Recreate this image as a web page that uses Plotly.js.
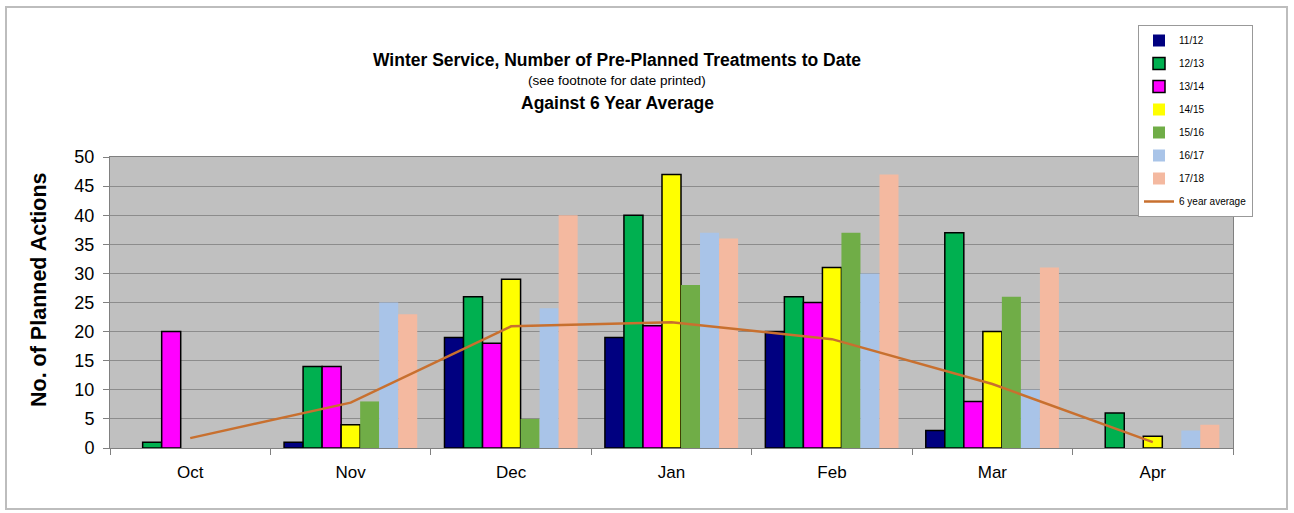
<!DOCTYPE html>
<html>
<head>
<meta charset="utf-8">
<script src="https://cdn.plot.ly/plotly-3.0.1.min.js"></script>
<style>
html,body{margin:0;padding:0;background:#fff;}
#chart{width:1294px;height:513px;}
</style>
</head>
<body>
<div id="chart"></div>
<script>
const months = ["Oct","Nov","Dec","Jan","Feb","Mar","Apr"];
const s1112 = [0, 1, 19, 19, 20, 3, 0];
const s1213 = [1, 14, 26, 40, 26, 37, 6];
const s1314 = [20, 14, 18, 21, 25, 8, 0];
const s1415 = [0, 4, 29, 47, 31, 20, 2];
const s1516 = [0, 8, 5, 28, 37, 26, 0];
const s1617 = [0, 25, 24, 37, 30, 10, 3];
const s1718 = [0, 23, 40, 36, 47, 31, 4];
const avg6 = [1.7, 7.8, 20.9, 21.6, 18.7, 11.0, 1.0];
const seriesNames = ["11/12","12/13","13/14","14/15","15/16","16/17","17/18"];
const yTicks = [0,5,10,15,20,25,30,35,40,45,50];
const titleLines = ["Winter Service, Number of Pre-Planned Treatments to Date","(see footnote for date printed)","Against 6 Year Average"];
const yTitle = "No. of Planned Actions";

const FONT = "Liberation Sans, Arial, sans-serif";
const colors = ["#000080","#00B050","#FF00FF","#FFFF00","#70AD47","#A9C4E8","#F4B9A0"];
const outlined = [true,true,true,true,false,false,false];
const allSeries = [s1112,s1213,s1314,s1415,s1516,s1617,s1718];

const traces = allSeries.map((vals,i)=>({
  type:"bar",
  name: seriesNames[i],
  x: months,
  y: vals,
  legendgroup: "g"+i,
  marker:{color:colors[i], line:{color:"#000", width: vals.map(v => (outlined[i] && v>0) ? 1.5 : 0)}}
}));
traces.push({
  type:"scatter",
  mode:"lines",
  name:"6 year average",
  x: months,
  y: avg6,
  legendgroup:"g7",
  line:{color:"#C8702F", width:2.5}
});

const L=110, R=61, T=157, B=65;
const W=1294, H=513;
const pw=W-L-R, ph=H-T-B;
const px = v => (v-L)/pw;
const py = v => (H-B-v)/ph;

const layout = {
  width:W, height:H,
  margin:{l:L, r:R, t:T, b:B, pad:0},
  paper_bgcolor:"#ffffff",
  plot_bgcolor:"#C0C0C0",
  barmode:"group",
  bargap:0.17,
  bargroupgap:0,
  font:{family:FONT, color:"#000"},
  annotations:[
    {text:"<b>"+titleLines[0]+"</b>", xref:"paper", yref:"paper", x:px(617), y:py(60), xanchor:"center", yanchor:"middle", showarrow:false, font:{size:17.5, family:FONT}},
    {text:titleLines[1], xref:"paper", yref:"paper", x:px(617), y:py(80), xanchor:"center", yanchor:"middle", showarrow:false, font:{size:13.5, family:FONT}},
    {text:"<b>"+titleLines[2]+"</b>", xref:"paper", yref:"paper", x:px(617), y:py(103), xanchor:"center", yanchor:"middle", showarrow:false, font:{size:17.5, family:FONT}},
    {text:"<b>"+yTitle+"</b>", xref:"paper", yref:"paper", x:px(39), y:py(290), xanchor:"center", yanchor:"middle", textangle:-90, showarrow:false, font:{size:21.5, family:FONT}}
  ],
  xaxis:{
    type:"category",
    tickfont:{size:17, family:FONT},
    ticks:"outside", tickson:"boundaries", ticklen:6, tickcolor:"#808080",
    ticklabelstandoff:9,
    showline:true, linecolor:"#808080", linewidth:1, mirror:true,
    showgrid:false, fixedrange:true
  },
  yaxis:{
    range:[0,50],
    tickvals:yTicks,
    tickfont:{size:18, family:FONT},
    ticks:"outside", ticklen:6, tickcolor:"#808080",
    ticklabelstandoff:5,
    showline:true, linecolor:"#808080", linewidth:1, mirror:true,
    gridcolor:"#8C8C8C", gridwidth:1,
    zeroline:false,
    fixedrange:true
  },
  legend:{
    x:px(1138), y:py(25), xanchor:"left", yanchor:"top",
    bgcolor:"#ffffff", bordercolor:"#999999", borderwidth:1,
    font:{size:10, family:FONT},
    tracegroupgap:4,
    itemwidth:30
  },
  shapes:[{
    type:"rect", xref:"paper", yref:"paper",
    x0:px(6), x1:px(1287), y0:py(509), y1:py(7),
    line:{color:"#BDBDBD", width:2}, fillcolor:"rgba(0,0,0,0)", layer:"below"
  }],
  showlegend:true
};

Plotly.newPlot("chart", traces, layout, {displayModeBar:false, staticPlot:true});
</script>
</body>
</html>
